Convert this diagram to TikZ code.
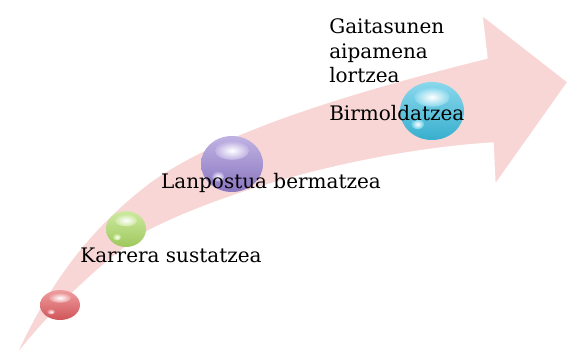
\documentclass[tikz,border=0pt]{standalone}
\usepackage{fontspec}
\setmainfont{DejaVu Serif}
\usepackage{tikz}
\usetikzlibrary{calc}
\newcommand{\pxlen}{0.75pt}
\definecolor{arrowpink}{RGB}{249,214,214}
\definecolor{ballred}{RGB}{226,92,96}
\definecolor{ballgreen}{RGB}{172,218,100}
\definecolor{ballpurple}{RGB}{150,128,208}
\definecolor{ballcyan}{RGB}{60,190,224}
% one glossy ball: centre, x radius, y radius, colour
\newcommand{\glossball}[4]{%
    \shade[top color=#4!60!white, bottom color=#4!92!black] (#1) ellipse [x radius=#2, y radius=#3];
    \shade[inner color=white, outer color=#4!62!white] ($(#1)+(0,-0.48*#3)$) ellipse [x radius=0.55*#2, y radius=0.33*#3];
    \shade[inner color=white, outer color=#4!80!white] ($(#1)+(-0.45*#2,0.45*#3)$) ellipse [x radius=0.2*#2, y radius=0.18*#3];
}

\begin{document}
\begin{tikzpicture}[x=\pxlen, y=-\pxlen,
    stagetext/.style={inner sep=0, font=\fontsize{15}{18.4}\selectfont},
  ]
    \useasboundingbox (0,0) rectangle (573,358);
    % big curved arrow
    \fill[arrowpink, draw=white, line width=1pt]
        (15,357) .. controls (50,280) and (90,228) .. (150,182)
        .. controls (230,125) and (380,85) .. (487,58)
        -- (482,15) -- (568,82) -- (495,185) -- (493,143)
        .. controls (380,150) and (240,185) .. (150,230)
        .. controls (100,262) and (45,318) .. (15,357) -- cycle;
    % balls
    \coordinate (ball_red) at (60,305);
    \coordinate (ball_green) at (126,229);
    \coordinate (ball_purple) at (232,164);
    \coordinate (ball_cyan) at (432,111);
    \glossball{ball_red}{20}{15}{ballred}
    \glossball{ball_green}{20}{18}{ballgreen}
    \glossball{ball_purple}{31}{28}{ballpurple}
    \glossball{ball_cyan}{32}{29}{ballcyan}
    % add labels
    \node[stagetext, anchor=base] (txt_karrera) at (171,262) {Karrera sustatzea};
    \node[stagetext, anchor=base] (txt_lanpostua) at (271,188) {Lanpostua bermatzea};
    \node[stagetext, anchor=base west] (txt_birmold) at (329,120) {Birmoldatzea};
    \node[stagetext, anchor=north west, align=left] (txt_gaitasun) at (329,18.5)
        {Gaitasunen\\aipamena\\lortzea};
\end{tikzpicture}
\end{document}
